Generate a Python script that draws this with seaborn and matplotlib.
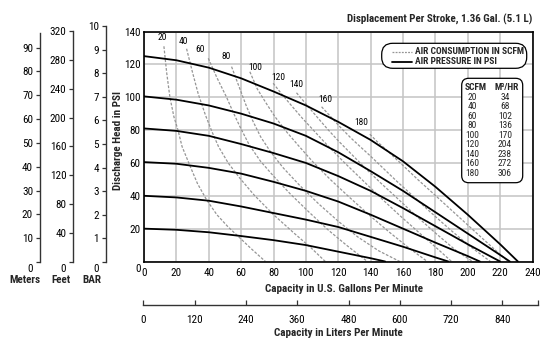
import matplotlib
matplotlib.use("Agg")
import matplotlib.pyplot as plt
import matplotlib.transforms as mtransforms
from matplotlib.patches import FancyBboxPatch
from matplotlib.lines import Line2D
from matplotlib import font_manager as fm
import pandas as pd
import seaborn as sns

# ---------------- data ----------------
gpm_ticks = [0, 20, 40, 60, 80, 100, 120, 140, 160, 180, 200, 220, 240]
psi_ticks = [0, 20, 40, 60, 80, 100, 120, 140]
meter_ticks = [0, 10, 20, 30, 40, 50, 60, 70, 80, 90]
feet_ticks = [0, 40, 80, 120, 160, 200, 240, 280, 320]
bar_ticks = [0, 1, 2, 3, 4, 5, 6, 7, 8, 9, 10]
lpm_ticks = [0, 120, 240, 360, 480, 600, 720, 840]

p120_gpm = [0, 20, 40, 60, 80, 100, 120, 140, 160, 180, 200, 220, 231]
p120_psi = [125, 122.5, 118, 111.5, 103.5, 95, 85, 74, 61, 45.5, 28.5, 10.5, 0]
p100_gpm = [0, 20, 40, 60, 80, 100, 120, 140, 160, 180, 200, 220, 226]
p100_psi = [100.5, 98.5, 95, 90, 84, 76.5, 66.5, 55, 43, 30, 17, 4, 0]
p80_gpm = [0, 20, 40, 60, 80, 100, 120, 140, 160, 180, 200, 220]
p80_psi = [81, 79.5, 76.5, 71.5, 66, 60, 52, 43, 32.5, 21.5, 10.5, 0]
p60_gpm = [0, 20, 40, 60, 80, 100, 120, 140, 160, 180, 200, 207.5]
p60_psi = [60.5, 59.5, 57, 53.5, 48.5, 43, 36.5, 28.5, 20, 11.5, 3.3, 0]
p40_gpm = [0, 20, 40, 60, 80, 100, 120, 140, 160, 180, 188]
p40_psi = [40, 39, 37, 33.5, 29.5, 25.5, 21, 15, 9, 2.5, 0]
p20_gpm = [0, 20, 40, 60, 80, 100, 120, 140, 149]
p20_psi = [20, 19.3, 17.8, 15.5, 13, 10, 6, 2, 0]

a20_gpm = [12.3, 14, 16, 18.5, 21, 23.5, 28.5, 33, 38.7, 45, 52, 58, 66, 75]
a20_psi = [131, 115, 100, 88, 80, 70, 58, 47.5, 37.5, 28.5, 21, 15.5, 8, 0]
a40_gpm = [26.3, 30, 33.5, 38, 42, 46, 52, 59.3, 68, 80, 93, 103, 112]
a40_psi = [129.5, 115, 102, 89, 79, 70, 60, 50.6, 40.5, 28.5, 17, 8.5, 0]
a60_gpm = [39.7, 45, 51, 55, 59.3, 65, 72, 80, 90, 102, 114, 125, 138]
a60_psi = [123.7, 112, 100, 91, 82, 71, 61, 52, 41.5, 30, 19, 10, 0]
a80_gpm = [54.1, 58.5, 63.4, 67.5, 72, 78, 86, 96, 108, 120, 132, 145, 158]
a80_psi = [118.6, 107, 94.2, 85, 76, 67, 57, 46.5, 35, 24.5, 15, 6.5, 0]
a100_gpm = [65.4, 70, 75.7, 81, 88, 95, 104, 115, 127, 140, 152, 164, 175]
a100_psi = [115.5, 105, 96, 88, 79, 71, 61, 50, 39, 27.5, 17.5, 8, 0]
a120_gpm = [79.8, 85, 91, 98, 106, 114, 124, 135, 146, 158, 170, 181, 190]
a120_psi = [108.5, 102, 95, 87, 78.5, 70, 60, 49.5, 39, 28, 17.5, 8, 0]
a140_gpm = [94.2, 100, 106, 113, 120, 127, 136, 146, 157, 169, 181, 193, 203]
a140_psi = [102.7, 96, 89, 81, 73.5, 66.5, 57.5, 48, 38, 27, 16.5, 6.5, 0]
a160_gpm = [109.7, 115, 121, 128, 134, 139, 147, 156, 166, 177, 189, 201, 214]
a160_psi = [94.2, 88.5, 82, 75, 69.5, 65, 57.5, 49, 40, 30, 19.5, 9.5, 0]
a180_gpm = [139.5, 144, 148, 154, 161, 169, 178, 188, 198, 208, 217, 225]
a180_psi = [77.5, 73, 69.5, 64, 57.5, 50, 42, 33, 24, 15, 7, 0]

air_labels = ["20", "40", "60", "80", "100", "120", "140", "160", "180"]
table_scfm = [20, 40, 60, 80, 100, 120, 140, 160, 180]
table_m3hr = [34, 68, 102, 136, 170, 204, 238, 272, 306]

title = "Displacement Per Stroke, 1.36 Gal. (5.1 L)"

# ---------------- font choice (condensed face with bold, if present) ----------------
_weights = {}
for _f in fm.fontManager.ttflist:
    try:
        _w = int(_f.weight)
    except (TypeError, ValueError):
        _w = 700 if "bold" in str(_f.weight).lower() else 400
    _weights.setdefault(_f.name, set()).add(_w)
NARROW = None
for cand in ["Roboto Condensed", "Liberation Sans Narrow", "Arial Narrow",
             "IBM Plex Sans Condensed", "Fira Sans Condensed",
             "Encode Sans Condensed", "Barlow Semi Condensed"]:
    ws = _weights.get(cand, set())
    if ws and max(ws) >= 600 and min(ws) <= 450:
        NARROW = cand
        break
FONT = ([NARROW] if NARROW else []) + ["Liberation Sans", "DejaVu Sans"]
SCALE = 1.0 if NARROW else 0.88

# ---------------- styling ----------------
sns.set_theme(style="white")
plt.rcParams["font.family"] = FONT
plt.rcParams["axes.unicode_minus"] = False

W, H = 550, 347
fig = plt.figure(figsize=(W / 100, H / 100), dpi=100)
fig.patch.set_facecolor("white")


def frac(x0, y0, x1, y1):
    return [x0 / W, 1 - y1 / H, (x1 - x0) / W, (y1 - y0) / H]


def inch(px, py):
    return px / 100, (H - py) / 100


TICK = 8.0 * SCALE
LAB = 8.0 * SCALE
SMALL = 6.8 * SCALE
ax = fig.add_axes(frac(144, 31.5, 532.5, 261.5))
ax.set_xlim(0, 240)
ax.set_ylim(0, 140)
ax.set_xticks(gpm_ticks)
ax.set_yticks(psi_ticks)
ax.grid(True, color="#c4c4c4", lw=1.1)
ax.set_axisbelow(True)
for s in ax.spines.values():
    s.set_visible(True)
    s.set_color("black")
    s.set_linewidth(1.2)
ax.tick_params(axis="both", length=0, labelsize=TICK, colors="black")
ax.tick_params(axis="x", pad=5)
ax.tick_params(axis="y", pad=2.5)

press = [(p20_gpm, p20_psi), (p40_gpm, p40_psi), (p60_gpm, p60_psi),
         (p80_gpm, p80_psi), (p100_gpm, p100_psi), (p120_gpm, p120_psi)]
air = [(a20_gpm, a20_psi), (a40_gpm, a40_psi), (a60_gpm, a60_psi),
       (a80_gpm, a80_psi), (a100_gpm, a100_psi), (a120_gpm, a120_psi),
       (a140_gpm, a140_psi), (a160_gpm, a160_psi), (a180_gpm, a180_psi)]

rows = []
for i, (g, p) in enumerate(air):
    rows += [{"curve": i, "gpm": a, "psi": b} for a, b in zip(g, p)]
air_df = pd.DataFrame(rows)
rows = []
for i, (g, p) in enumerate(press):
    rows += [{"curve": i, "gpm": a, "psi": b} for a, b in zip(g, p)]
press_df = pd.DataFrame(rows)

sns.lineplot(data=air_df, x="gpm", y="psi", units="curve", estimator=None,
             sort=False, color="#959595", lw=0.9, ax=ax,
             legend=False, linestyle=(0, (2.2, 1.3)))
sns.lineplot(data=press_df, x="gpm", y="psi", units="curve", estimator=None,
             sort=False, color="black", lw=1.3, ax=ax, legend=False)
ax.set_xlabel("")
ax.set_ylabel("")

label_off = [(-1, 3), (-2, 2), (-6, 3), (-4, 4), (4, 0), (4, 1), (0, 3), (3, 2), (-6, 5)]
for (g, p), lab, off in zip(air, air_labels, label_off):
    ax.annotate(lab, (g[0], p[0]), xytext=off, textcoords="offset points",
                ha="center", va="bottom", fontsize=SMALL, color="black")

off0 = mtransforms.ScaledTranslation(0, -6 / 100, fig.dpi_scale_trans)
ax.get_yticklabels()[0].set_transform(ax.get_yticklabels()[0].get_transform() + off0)


def side_axis(xpx, ticks, top_val, span_top):
    a = fig.add_axes(frac(xpx, 262 - 236, xpx + 0.01, 262))
    a.set_facecolor("none")
    for k in ["top", "right", "bottom"]:
        a.spines[k].set_visible(False)
    a.spines["left"].set_visible(True)
    a.spines["left"].set_color("#333333")
    a.spines["left"].set_linewidth(1.0)
    a.set_ylim(0, top_val)
    a.spines["left"].set_bounds(0, span_top)
    a.set_yticks(ticks)
    a.set_xticks([])
    a.tick_params(axis="y", direction="out", length=3, width=0.9, pad=2,
                  labelsize=TICK, colors="#333333", labelcolor="black", left=True)
    a.grid(False)
    lbl = a.get_yticklabels()[0]
    lbl.set_transform(lbl.get_transform() + off0)
    return a


side_axis(40, meter_ticks, 236 / 2.383, 96.3)
side_axis(73.3, feet_ticks, 236 / 0.7225, 320)
side_axis(106, bar_ticks, 236 / 23.6, 10)

fig.text(40 / W, 1 - 280 / H, "Meters", ha="right", va="center", fontsize=LAB, weight="bold")
fig.text(71 / W, 1 - 280 / H, "Feet", ha="right", va="center", fontsize=LAB, weight="bold")
fig.text(101 / W, 1 - 280 / H, "BAR", ha="right", va="center", fontsize=LAB, weight="bold")

fig.text(118 / W, 1 - 141 / H, "Discharge Head in PSI", rotation=90, ha="center",
         va="center", fontsize=LAB, weight="bold")
fig.text(344 / W, 1 - 289 / H, "Capacity in U.S. Gallons Per Minute", ha="center",
         va="center", fontsize=LAB, weight="bold")
fig.text(532 / W, 1 - 19 / H, title, ha="right", va="center", fontsize=7.9 * SCALE,
         weight="bold")

la = fig.add_axes(frac(143.3, 290, 538.3, 305))
la.set_facecolor("none")
for k in ["top", "right", "left"]:
    la.spines[k].set_visible(False)
la.spines["bottom"].set_visible(True)
la.spines["bottom"].set_color("#333333")
la.spines["bottom"].set_linewidth(1.0)
lmax = (538.3 - 143.3) / 0.4275
la.set_xlim(0, lmax)
la.set_yticks([])
la.set_xticks(lpm_ticks)
la.set_xticks([lmax], minor=True)
la.tick_params(axis="x", which="both", direction="in", length=3.5, width=0.9,
               pad=7, labelsize=TICK, colors="#333333", labelcolor="black", bottom=True)
la.grid(False)
fig.text(338 / W, 1 - 333 / H, "Capacity in Liters Per Minute", ha="center",
         va="center", fontsize=LAB, weight="bold")

# legend box
x0, y0 = inch(381.7, 68.3)
x1, y1 = inch(526.7, 43.3)
leg = FancyBboxPatch((x0, y0), x1 - x0, y1 - y0,
                     boxstyle="round,pad=0,rounding_size=0.11",
                     transform=fig.dpi_scale_trans, facecolor="white",
                     edgecolor="black", lw=0.9, zorder=10)
fig.add_artist(leg)
lx0, ly = inch(391.7, 51.7)
lx1, _ = inch(411.7, 51.7)
fig.add_artist(Line2D([lx0, lx1], [ly, ly], transform=fig.dpi_scale_trans,
                      color="#959595", lw=0.9, linestyle=(0, (1.5, 1.0)), zorder=11))
_, ly2 = inch(0, 61.7)
fig.add_artist(Line2D([lx0, lx1], [ly2, ly2], transform=fig.dpi_scale_trans,
                      color="black", lw=1.3, zorder=11))
LEGF = 6.8 if NARROW else 5.7
fig.text(415 / W, 1 - 51.7 / H, "AIR CONSUMPTION IN SCFM", ha="left", va="center",
         fontsize=LEGF, weight="bold", zorder=12)
fig.text(415 / W, 1 - 61.7 / H, "AIR PRESSURE IN PSI", ha="left", va="center",
         fontsize=LEGF, weight="bold", zorder=12)

# table box
x0, y0 = inch(461.7, 182.7)
x1, y1 = inch(522.7, 78.3)
tb = FancyBboxPatch((x0, y0), x1 - x0, y1 - y0,
                    boxstyle="round,pad=0,rounding_size=0.07",
                    transform=fig.dpi_scale_trans, facecolor="white",
                    edgecolor="black", lw=0.9, zorder=10)
fig.add_artist(tb)
fig.text(476 / W, 1 - 88 / H, "SCFM", ha="center", va="center", fontsize=LEGF,
         weight="bold", zorder=12)
fig.text(506.5 / W, 1 - 88 / H, "M³/HR", ha="center", va="center", fontsize=LEGF,
         weight="bold", zorder=12)
for i, (s, m) in enumerate(zip(table_scfm, table_m3hr)):
    yy = 97.3 + i * 9.5
    fig.text(472 / W, 1 - yy / H, str(s), ha="center", va="center", fontsize=SMALL, zorder=12)
    fig.text(505 / W, 1 - yy / H, str(m), ha="center", va="center", fontsize=SMALL, zorder=12)

fig.savefig("out.png", dpi=100, facecolor="white")
